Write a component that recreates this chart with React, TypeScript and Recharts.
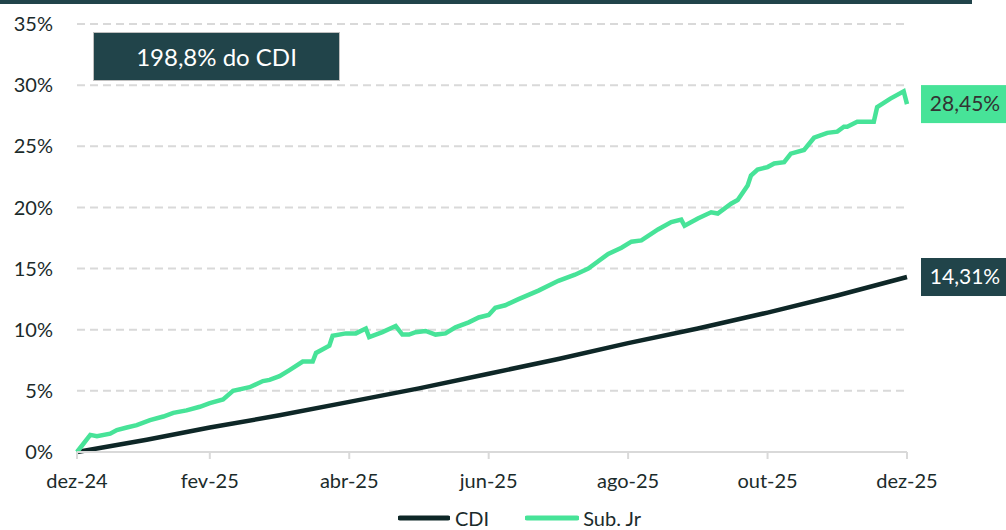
import React from 'react';
import { LineChart, Line, XAxis, YAxis, CartesianGrid, Legend } from 'recharts';

// dia útil (índice) x rentabilidade acumulada (%)
const diasSubJr = [
  0, 4, 6, 10, 12, 15, 18, 22, 26, 29, 33, 37, 40, 44, 47, 52, 56, 58, 61, 64,
  68, 71, 72, 76, 77, 81, 84, 87, 88, 92, 96, 98, 100, 102, 105, 108, 111, 114,
  118, 121, 124, 126, 129, 133, 139, 145, 150, 154, 157, 160, 164, 167, 170, 175,
  179, 182, 183, 187, 191, 193, 197, 199, 200, 202, 203, 205, 208, 210, 213, 215,
  219, 222, 226, 229, 231, 232, 235, 240, 241, 245, 249, 250,
];
const subJr = [
  0, 1.4, 1.3, 1.5, 1.8, 2.0, 2.2, 2.6, 2.9, 3.2, 3.4, 3.7, 4.0, 4.3, 5.0, 5.3, 5.8, 5.9, 6.2, 6.7,
  7.4, 7.4, 8.1, 8.7, 9.5, 9.7, 9.7, 10.1, 9.4, 9.8, 10.3, 9.6, 9.6, 9.8, 9.9, 9.6, 9.7, 10.2,
  10.6, 11.0, 11.2, 11.8, 12.0, 12.5, 13.2, 14.0, 14.5, 15.0, 15.6, 16.2, 16.7, 17.2, 17.3, 18.2,
  18.8, 19.0, 18.5, 19.1, 19.6, 19.5, 20.3, 20.6, 21.0, 21.8, 22.6, 23.1, 23.3, 23.6, 23.7, 24.4,
  24.7, 25.7, 26.1, 26.2, 26.6, 26.6, 27.0, 27.0, 28.2, 28.9, 29.5, 28.45,
];

const diasCdi = [0, 21, 40, 61, 82, 103, 124, 145, 166, 187, 208, 229, 250];
const cdi = [0, 1.0, 2.0, 3.0, 4.1, 5.2, 6.4, 7.6, 8.9, 10.1, 11.4, 12.8, 14.31];

const ticksX = [0, 40, 82, 124, 166, 208, 250];
const labelsX = ['dez-24', 'fev-25', 'abr-25', 'jun-25', 'ago-25', 'out-25', 'dez-25'];
const ticksY = [0, 5, 10, 15, 20, 25, 30, 35];

const subJrData = diasSubJr.map((d, i) => ({ dia: d, valor: subJr[i] }));
const cdiData = diasCdi.map((d, i) => ({ dia: d, valor: cdi[i] }));

const DARK = '#21444a';
const GREEN = '#47e398';
const TEXT = '#1b2b2b';
const FONT = 'Lato, "Open Sans", sans-serif';

const fmt = (v: number) => v.toFixed(2).replace('.', ',') + '%';

const endLabel = (bg: string, fg: string, last: number) => (props: any) => {
  const { x, y, index, value } = props;
  if (index !== last) return null;
  return (
    <g>
      <rect x={x + 14} y={y - 19} width={86} height={38} fill={bg} />
      <text x={x + 58} y={y} dy="0.35em" textAnchor="middle" fill={fg} fontSize={21} fontFamily={FONT}>
        {fmt(value)}
      </text>
    </g>
  );
};

const LegendContent = () => (
  <div style={{ display: 'flex', alignItems: 'center', height: 24, paddingTop: 4, paddingLeft: 398, fontFamily: FONT, fontSize: 20, color: TEXT }}>
    <svg width={52} height={6} style={{ marginRight: 5 }}>
      <line x1={2} y1={3} x2={50} y2={3} stroke="#0e2727" strokeWidth={5} strokeLinecap="round" />
    </svg>
    <span style={{ marginRight: 36 }}>CDI</span>
    <svg width={54} height={6} style={{ marginRight: 4 }}>
      <line x1={2} y1={3} x2={52} y2={3} stroke={GREEN} strokeWidth={5} strokeLinecap="round" />
    </svg>
    <span>Sub. Jr</span>
  </div>
);

export default function App() {
  return (
    <div style={{ position: 'absolute', left: 0, top: 0, width: 1006, height: 530, background: '#fff', overflow: 'hidden', fontFamily: FONT }}>
      <div style={{ position: 'absolute', left: 0, top: 0, width: 972, height: 4, background: DARK }} />
      <LineChart width={1006} height={530} margin={{ top: 24, right: 99, bottom: 0, left: 0 }}>
        <CartesianGrid vertical={false} stroke="#d9d9d9" strokeWidth={2} strokeDasharray="8 5" />
        <XAxis
          type="number"
          dataKey="dia"
          domain={[0, 250]}
          ticks={ticksX}
          tickFormatter={(v: number) => labelsX[ticksX.indexOf(v)]}
          axisLine={{ stroke: '#d9d9d9', strokeWidth: 2 }}
          tickLine={{ stroke: '#d9d9d9', strokeWidth: 2 }}
          tickSize={7}
          tickMargin={15}
          height={50}
          tick={{ fill: TEXT, fontSize: 20, fontFamily: FONT }}
          interval={0}
        />
        <YAxis
          type="number"
          domain={[0, 35]}
          ticks={ticksY}
          tickFormatter={(v: number) => `${v}%`}
          axisLine={false}
          tickLine={false}
          tickSize={6}
          tickMargin={18}
          width={77}
          tick={{ fill: TEXT, fontSize: 20, fontFamily: FONT }}
        />
        <Legend verticalAlign="bottom" content={LegendContent} />
        <Line
          data={cdiData}
          dataKey="valor"
          name="CDI"
          stroke="#0e2727"
          strokeWidth={4.5}
          dot={false}
          type="linear"
          isAnimationActive={false}
          label={endLabel(DARK, '#ffffff', cdiData.length - 1)}
        />
        <Line
          data={subJrData}
          dataKey="valor"
          name="Sub. Jr"
          stroke={GREEN}
          strokeWidth={4.5}
          dot={false}
          type="linear"
          isAnimationActive={false}
          label={endLabel(GREEN, '#333333', subJrData.length - 1)}
        />
      </LineChart>
      <div
        style={{
          position: 'absolute', left: 93, top: 32, width: 245, height: 47, background: DARK,
          border: '1px solid #bfbfbf', color: '#fff', fontSize: 24, display: 'flex',
          alignItems: 'center', justifyContent: 'center',
        }}
      >
        198,8% do CDI
      </div>
    </div>
  );
}
